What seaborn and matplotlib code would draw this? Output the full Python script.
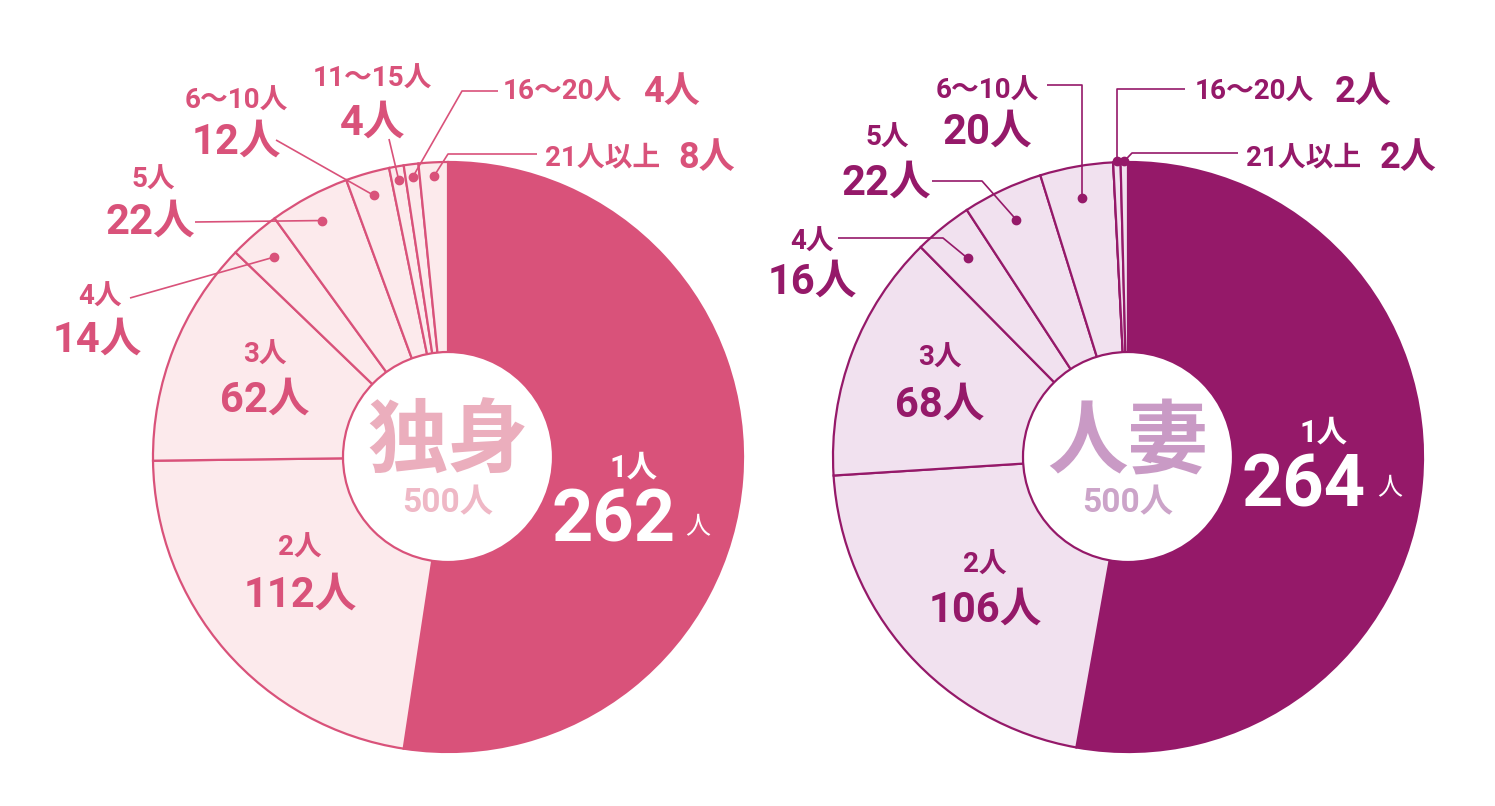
import matplotlib
matplotlib.use("Agg")
import matplotlib.pyplot as plt
import seaborn as sns
import numpy as np
from matplotlib import font_manager
from matplotlib.patches import Circle

# ---------------- data ----------------
categories = ["1人", "2人", "3人", "4人", "5人", "6～10人", "11～15人", "16～20人", "21人以上"]
single_values = [262, 112, 62, 14, 22, 12, 4, 4, 8]
wife_values = [264, 106, 68, 16, 22, 20, 0, 2, 2]
group_titles = ["独身", "人妻"]
group_totals = [500, 500]

# ---------------- style ----------------
sns.set_theme(style="white")
names = {f.name for f in font_manager.fontManager.ttflist}
NUM = "Roboto" if "Roboto" in names else "DejaVu Sans"
CJK = "Noto Sans CJK JP"
plt.rcParams["font.family"] = [NUM, CJK]

W, H = 1495, 806
fig = plt.figure(figsize=(W / 100, H / 100), dpi=100)
ax = fig.add_axes([0, 0, 1, 1])
ax.set_xlim(0, W)
ax.set_ylim(0, H)
ax.set_aspect("equal")
ax.axis("off")


def Y(y):
    return H - y


charts = [
    dict(values=single_values, cx=448, cy=457, dark="#D9527A", light="#FCEAEC",
         title_col="#EBAEBD", sub_col="#EFB8C6"),
    dict(values=wife_values, cx=1128, cy=457, dark="#951969", light="#F1E1EF",
         title_col="#C99AC5", sub_col="#CCA4C9"),
]
R_OUT, R_IN = 295, 105

# label layouts (pixel coords, y down) : index -> settings
layouts = [
    {  # 独身
        1: dict(kind="inside", top=(300, 548), bot=(300, 595)),
        2: dict(kind="inside", top=(265, 355), bot=(265, 400)),
        3: dict(kind="stack", top=(100, 297), bot=(97, 340), r=265, path=[(130, 298)]),
        4: dict(kind="stack", top=(153, 180), bot=(150, 222), r=268, path=[(195, 222)]),
        5: dict(kind="stack", top=(236, 101), bot=(236, 142), r=272, path=[(276, 140)]),
        6: dict(kind="stack", top=(372, 79), bot=(373, 123), r=281, path=[(389, 139)]),
        7: dict(kind="inline", x=503, y=92, xv=643, r=282, path=[(462, 91), (498, 91)]),
        8: dict(kind="inline", x=545, y=158, xv=678, r=281, path=[(448, 154), (537, 154)]),
    },
    {  # 人妻
        1: dict(kind="inside", top=(985, 565), bot=(985, 610)),
        2: dict(kind="inside", top=(940, 358), bot=(940, 405)),
        3: dict(kind="stack", top=(812, 242), bot=(812, 282), r=255, path=[(943, 238), (838, 238)]),
        4: dict(kind="stack", top=(887, 138), bot=(886, 183), r=262, path=[(982, 181), (932, 181)]),
        5: dict(kind="stack", top=(987, 91), bot=(987, 132), r=263, path=[("v", 85), (1047, 85)]),
        7: dict(kind="inline", x=1195, y=92, xv=1335, r=296, path=[("v", 89), (1185, 89)]),
        8: dict(kind="inline", x=1246, y=158, xv=1380, r=296, path=[(1132, 153), (1238, 153)]),
    },
]

SMALL = 20
BIG = 30
big_pos = [dict(lab=(633, 468), num=(614, 522), unit=(698, 527)),
           dict(lab=(1323, 433), num=(1304, 487), unit=(1390, 488))]

for ci, ch in enumerate(charts):
    vals = ch["values"]
    cols = [ch["dark"]] + [ch["light"]] * (len(vals) - 1)
    wedges, _ = ax.pie(vals, colors=cols, startangle=90, counterclock=False,
                       center=(ch["cx"], Y(ch["cy"])), radius=R_OUT, frame=True,
                       wedgeprops=dict(edgecolor=ch["dark"], linewidth=1.6))
    ax.add_patch(Circle((ch["cx"], Y(ch["cy"])), R_IN, facecolor="white",
                        edgecolor=ch["dark"], linewidth=1.6, zorder=5))
    ax.text(ch["cx"], Y(443), group_titles[ci], color=ch["title_col"], fontsize=58,
            fontweight="bold", family=[CJK], ha="center", va="center", zorder=6)
    ax.text(ch["cx"], Y(503), f"{group_totals[ci]}人", color=ch["sub_col"], fontsize=24,
            fontweight="bold", ha="center", va="center", zorder=6)

    # largest slice label (white, inside)
    bp = big_pos[ci]
    ax.text(bp["lab"][0], Y(bp["lab"][1]), categories[0], color="white", fontsize=SMALL + 2,
            fontweight="bold", ha="center", va="center", zorder=6)
    ax.text(bp["num"][0], Y(bp["num"][1]), str(vals[0]), color="white", fontsize=52,
            fontweight="bold", ha="center", va="center", zorder=6)
    ax.text(bp["unit"][0], Y(bp["unit"][1]), "人", color="white", fontsize=18, family=[CJK],
            ha="center", va="center", zorder=6)

    for idx, lay in layouts[ci].items():
        col = ch["dark"]
        if lay["kind"] == "inside":
            ax.text(lay["top"][0], Y(lay["top"][1]), categories[idx], color=col,
                    fontsize=SMALL, fontweight="bold", ha="center", va="center", zorder=6)
            ax.text(lay["bot"][0], Y(lay["bot"][1]), f"{vals[idx]}人", color=col,
                    fontsize=BIG, fontweight="bold", ha="center", va="center", zorder=6)
            continue
        w = wedges[idx]
        mid = np.deg2rad((w.theta1 + w.theta2) / 2)
        dx = ch["cx"] + lay["r"] * np.cos(mid)
        dy = Y(ch["cy"]) + lay["r"] * np.sin(mid)
        xs, ys = [dx], [dy]
        for px, py in lay["path"]:
            xs.append(dx if px == "v" else px)
            ys.append(Y(py))
        ax.plot(xs, ys, color=col, lw=1.2, zorder=7, solid_capstyle="butt")
        ax.plot([dx], [dy], "o", color=col, ms=6, zorder=8)
        if lay["kind"] == "stack":
            ax.text(lay["top"][0], Y(lay["top"][1]), categories[idx], color=col,
                    fontsize=SMALL, fontweight="bold", ha="center", va="center", zorder=6)
            ax.text(lay["bot"][0], Y(lay["bot"][1]), f"{vals[idx]}人", color=col,
                    fontsize=BIG, fontweight="bold", ha="center", va="center", zorder=6)
        else:
            ax.text(lay["x"], Y(lay["y"]), categories[idx], color=col,
                    fontsize=SMALL, fontweight="bold", ha="left", va="center", zorder=6)
            ax.text(lay["xv"], Y(lay["y"]), f"{vals[idx]}人", color=col,
                    fontsize=BIG - 4, fontweight="bold", ha="left", va="center", zorder=6)

ax.set_xlim(0, W)
ax.set_ylim(0, H)
fig.savefig("out.png", dpi=100, facecolor="white")
